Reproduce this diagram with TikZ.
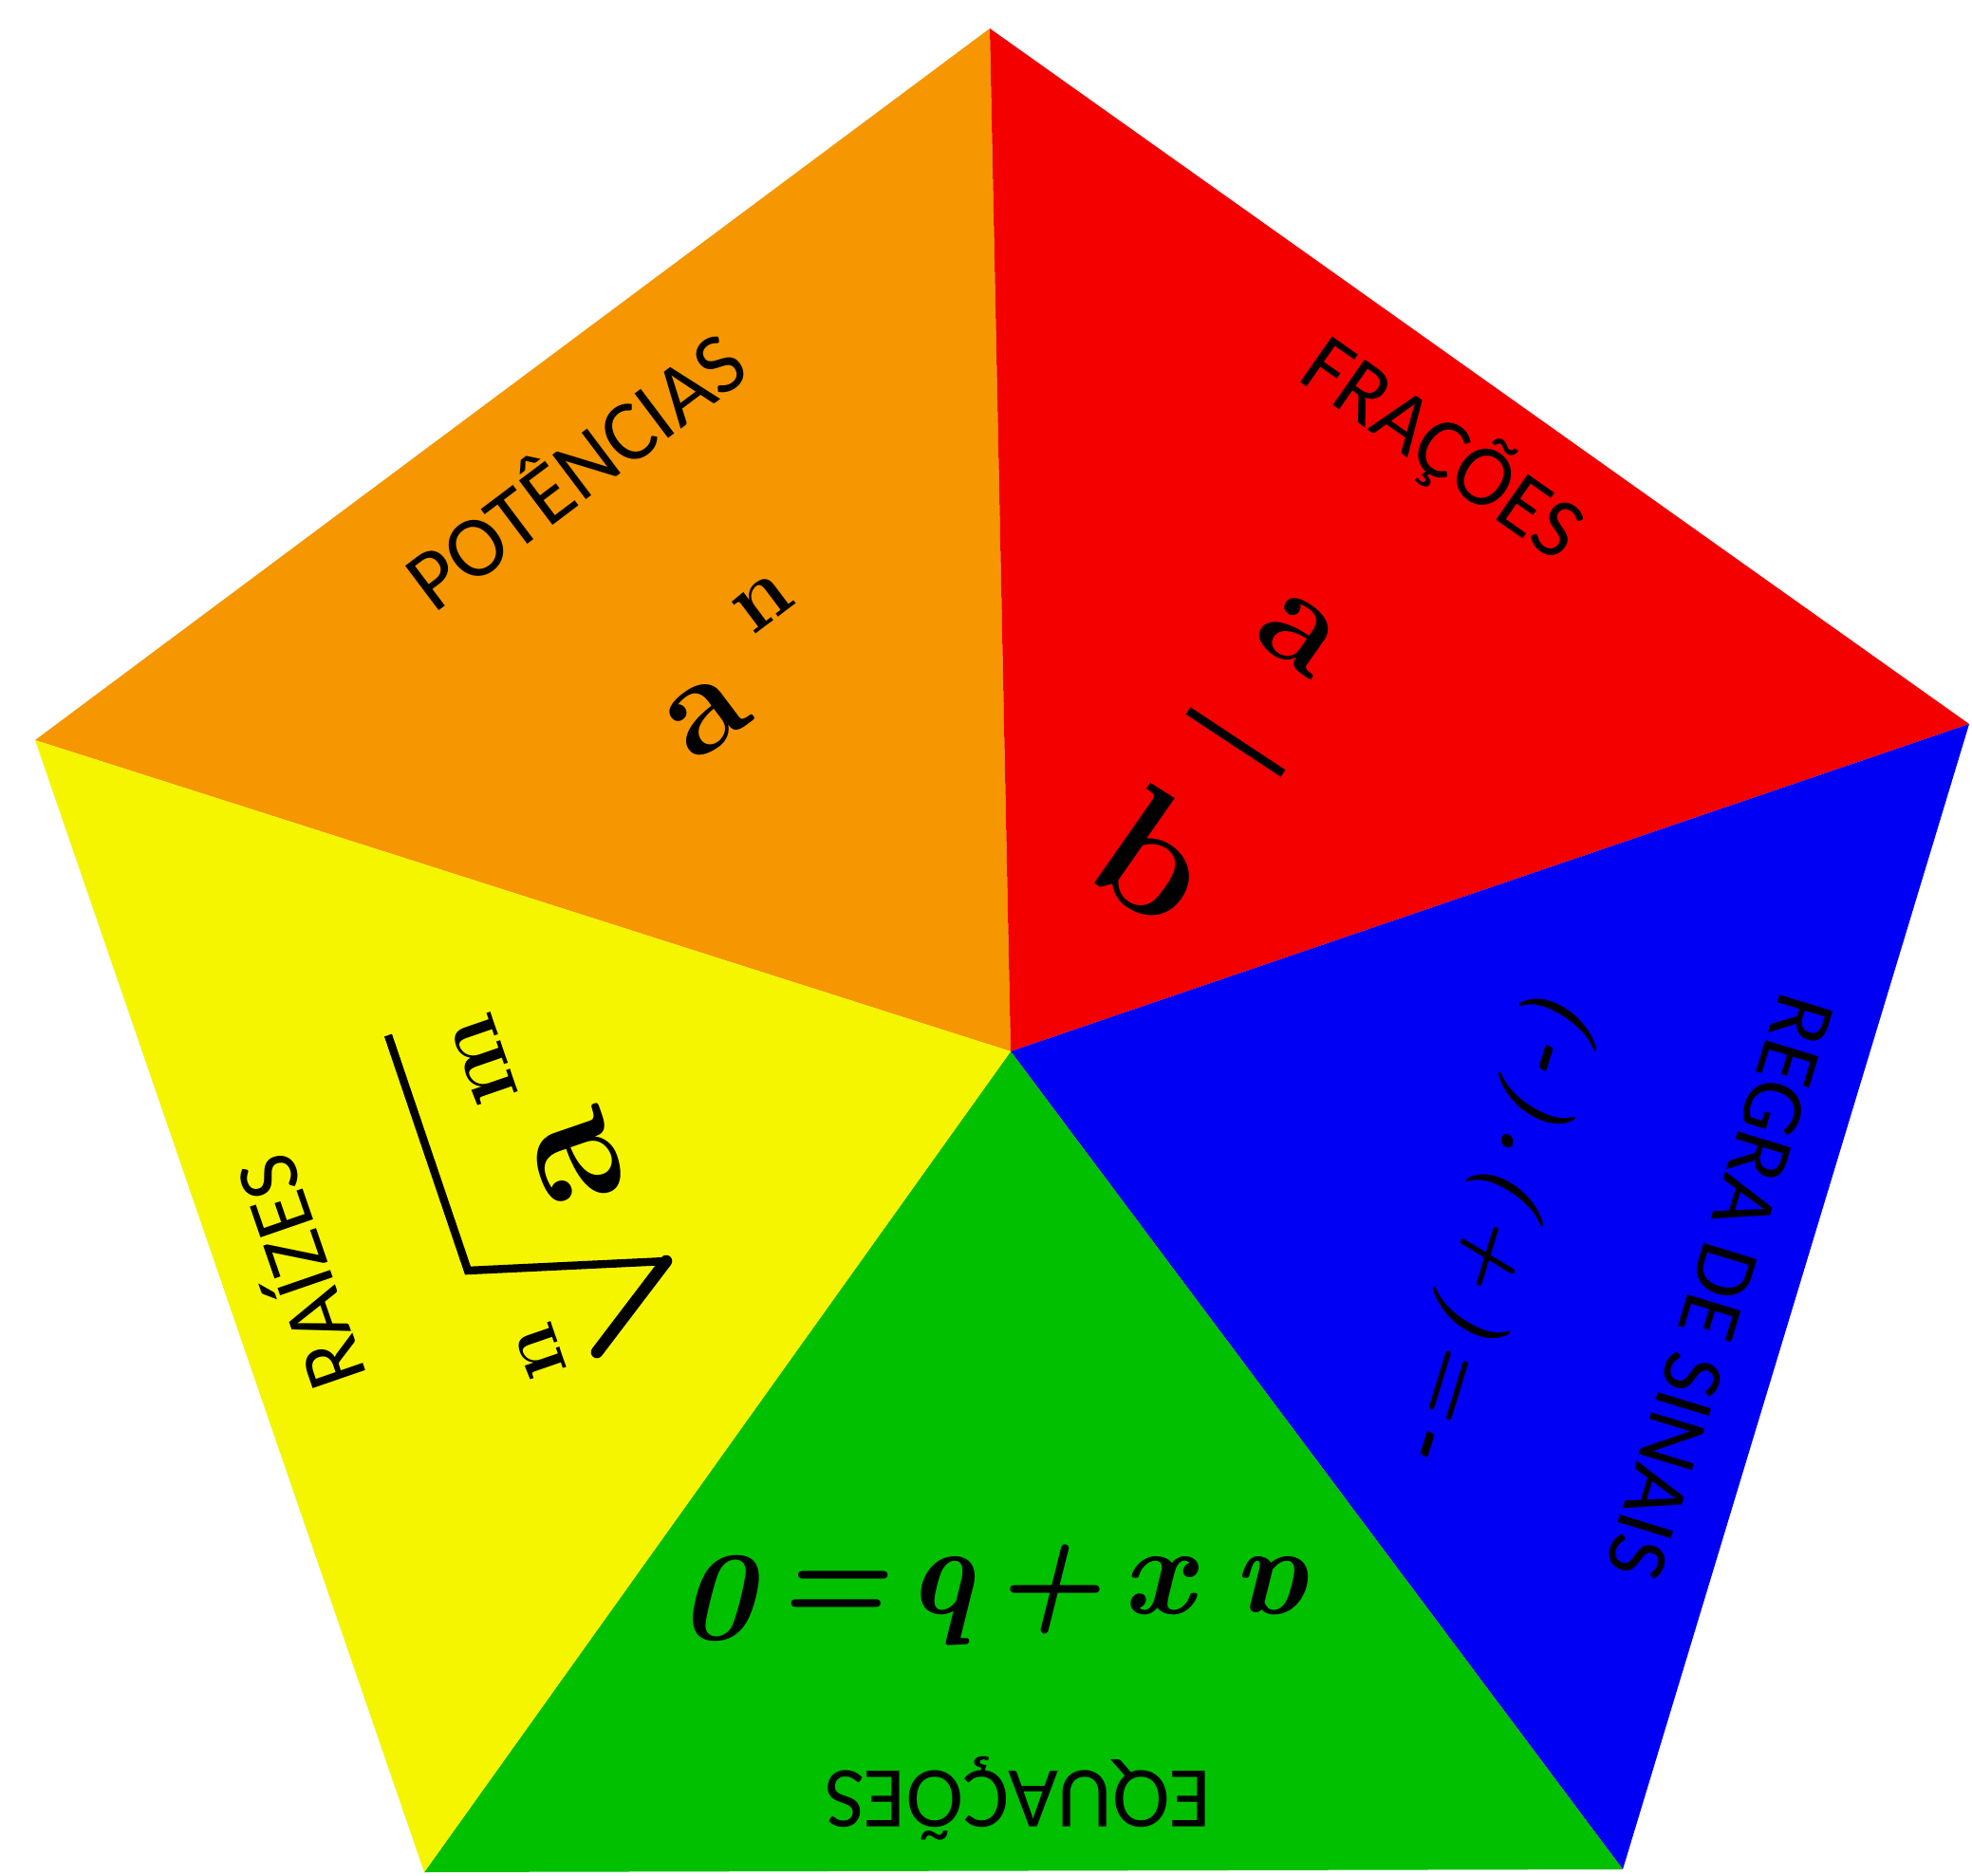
\documentclass[tikz,border=0pt]{standalone}
\usepackage{fontspec}
\setmainfont{Carlito}
\newfontfamily\lmfont{Latin Modern Roman}

\definecolor{potcolor}{RGB}{246,150,0}
\definecolor{fraccolor}{RGB}{245,0,0}
\definecolor{sinalcolor}{RGB}{0,0,245}
\definecolor{eqcolor}{RGB}{0,192,0}
\definecolor{raizcolor}{RGB}{245,245,0}

\begin{document}
\begin{tikzpicture}[x=1cm,y=1cm,
  sectorname/.style={font=\fontsize{26}{30}\selectfont,inner sep=0pt},
  bigletter/.style={font=\lmfont\fontsize{#1}{#1}\selectfont\bfseries,inner sep=0pt},
  bigslanted/.style={font=\lmfont\fontsize{#1}{#1}\selectfont\bfseries\itshape,inner sep=0pt},
  radstroke/.style={line width=2.4pt,line join=miter}]
\path[use as bounding box] (0,0) rectangle (20.78,19.76);
% corners of the pentagon and its centre
\coordinate (T) at (10.43,19.46);
\coordinate (L) at (0.37,11.96);
\coordinate (R) at (20.75,12.13);
\coordinate (BL) at (4.47,0.03);
\coordinate (BR) at (17.10,0.06);
\coordinate (C) at (10.65,8.68);

\fill[potcolor] (L)--(T)--(C)--cycle;
\fill[fraccolor] (T)--(R)--(C)--cycle;
\fill[sinalcolor] (R)--(BR)--(C)--cycle;
\fill[eqcolor] (BR)--(BL)--(C)--cycle;
\fill[raizcolor] (BL)--(L)--(C)--cycle;

% potencias
\node[sectorname,rotate=37] (potencias) at (6.03,14.84) {POTÊNCIAS};
\node[bigletter=42,rotate=37] (powbase) at (7.45,12.21) {a};
\node[bigletter=27,rotate=37] (powexp) at (8.04,13.40) {n};

% fracoes
\node[sectorname,rotate=-35] (fracoes) at (15.20,15.03) {FRAÇÕES};
\node[bigletter=41,rotate=-35] (numer) at (13.68,13.07) {a};
\node[bigletter=50,rotate=-35] (denom) at (12.18,10.74) {b};
\draw[line width=2.5pt] (12.52,12.27) -- (13.52,11.61);

% regra de sinais
\node[sectorname,rotate=-107] (sinais) at (18.12,6.20) {REGRA DE SINAIS};
\node[bigslanted=26,rotate=-107] (signs) at (15.78,6.84)
  {(\hspace{.1em}-\hspace{.1em})\hspace{.1em}.\hspace{.1em}(\hspace{.1em}+\hspace{.1em})\hspace{.1em}=\hspace{.1em}-};

% equacoes
\node[sectorname,rotate=180] (equacoes) at (10.73,0.81) {EQUAÇÕES};
\node[bigslanted=38,rotate=180] (equation) at (10.64,2.95)
  {a\hspace{.3em}x\hspace{.14em}+\hspace{.14em}b\hspace{.14em}=\hspace{.14em}0};

% raizes
\node[sectorname,rotate=109] (raizes) at (3.10,6.33) {RAÍZES};
\coordinate (radtop) at (4.09,8.85);
\coordinate (radcorner) at (4.93,6.37);
\coordinate (radfoot) at (7.02,6.47);
\coordinate (radtick) at (6.29,5.51);
\draw[radstroke] (radtop)--(radcorner)--(radfoot);
\draw[line width=3.6pt,line cap=round] (radfoot)--(radtick);
\node[bigletter=52,rotate=109] (radbase) at (6.08,7.54) {a};
\node[bigletter=29,rotate=109] (radexp) at (5.10,8.59) {m};
\node[bigletter=26,rotate=109] (radindex) at (5.70,5.52) {n};
\end{tikzpicture}
\end{document}
